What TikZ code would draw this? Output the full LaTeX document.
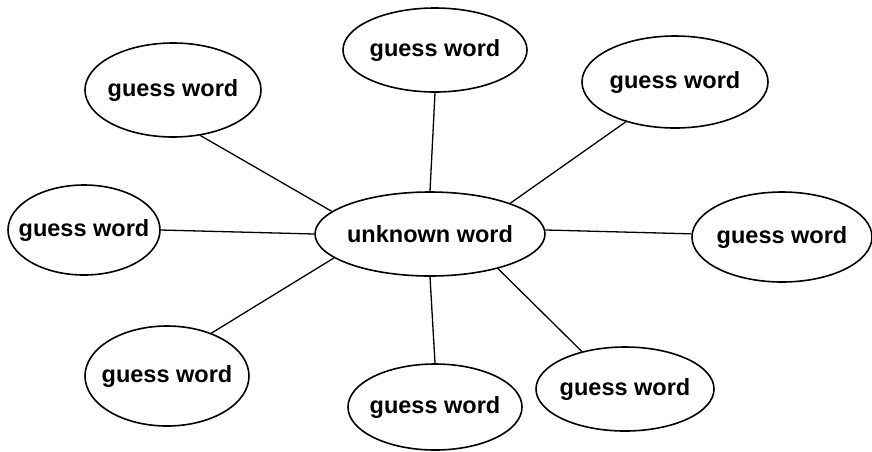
\documentclass[tikz,border=0pt]{standalone}
\usepackage{fontspec}
\setsansfont{Liberation Sans}
\usetikzlibrary{shapes.geometric}

\tikzset{
  wordfont/.style={font=\sffamily\bfseries\fontsize{23.5}{24}\selectfont},
  word/.style={ellipse, draw=black, line width=1.6pt, inner sep=0pt},
  guess/.style={word, label={[wordfont]center:guess word}},
  link/.style={black, line width=1.3pt}
}

\begin{document}
\begin{tikzpicture}[x=1pt, y=-1pt]
\useasboundingbox (0,0) rectangle (872,451);

% the word in the middle
\node[word, minimum width=230pt, minimum height=84pt,
      label={[wordfont]center:unknown word}] (unknown) at (430,234) {};

% guesses round it: name/x/y/width/height
\foreach \n/\x/\y/\w/\h in {tl/173/90/176/94, top/435/50/184/84, tr/675/82/186/92,
                            left/84/230/152/90, right/782/237/180/90,
                            bl/167/376/164/100, bottom/435/407/174/86, br/625/389/178/84}
  \node[guess, minimum width=\w pt, minimum height=\h pt] (\n) at (\x,\y) {};

% spokes
\foreach \n/\a/\b in {tl/167/301, top/90/270, tr/21/219.5, left/180/0,
                      right/2/178, bl/194/44, bottom/270/90, br/333/139}
  \draw[link] (unknown.\a) -- (\n.\b);

\end{tikzpicture}
\end{document}
